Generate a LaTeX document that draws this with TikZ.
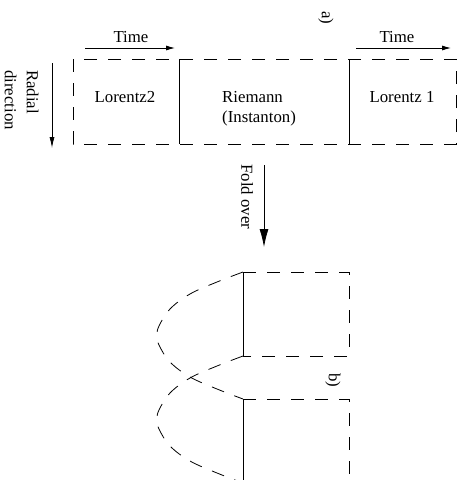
\documentclass[tikz,border=0pt]{standalone}
\usepackage{fontspec}
\setmainfont{Liberation Serif}
\usetikzlibrary{arrows.meta}
\begin{document}
\begin{tikzpicture}[x=1pt,y=-1pt,
  lbl/.style={font=\fontsize{16.8}{22}\selectfont, inner sep=0pt},
  dsh/.style={line width=0.8pt, dash pattern=on 13pt off 11pt},
  sld/.style={line width=0.8pt},
  arr/.style={line width=0.8pt,-{Latex[length=9pt,width=5pt]}},
  bigarr/.style={line width=0.8pt,-{Latex[length=18pt,width=9pt]}}]
\clip (0,0) rectangle (463,480);
% top panel a)
\coordinate (ta1) at (85,48); \coordinate (ta2) at (175,48);
\coordinate (tb1) at (356,48); \coordinate (tb2) at (451,48);
\coordinate (r1) at (52,63); \coordinate (r2) at (52,148);
\draw[arr] (ta1) -- (ta2);
\draw[arr] (tb1) -- (tb2);
\draw[arr,-{Latex[length=11pt,width=5pt]}] (r1) -- (r2);
\node[lbl,anchor=base] (time1) at (131,42.7) {Time};
\node[lbl,anchor=base] (time2) at (397,42.7) {Time};
\node[lbl,rotate=-90] (alab) at (326,18) {a)};
\node[lbl,rotate=-90,align=left] (radial) at (21.5,100) {Radial\\direction};
\draw[dsh] (73,59) rectangle (456,144);
\draw[sld] (179,59) -- (179,144);
\draw[sld] (349,59) -- (349,144);
\node[lbl,anchor=base] (lor2) at (125,102) {Lorentz2};
\node[lbl,anchor=base west] (riem) at (222,102) {Riemann};
\node[lbl,anchor=base west] (inst) at (222,122) {(Instanton)};
\node[lbl,anchor=base] (lor1) at (402,102) {Lorentz 1};
% fold over
\coordinate (f1) at (264,165); \coordinate (f2) at (264,247);
\draw[bigarr] (f1) -- (f2);
\node[lbl,rotate=-90] (fold) at (247,197) {Fold over};
% bottom panel b)
\coordinate (u1) at (243,272); \coordinate (u2) at (349,272);
\coordinate (u3) at (349,356); \coordinate (u4) at (243,356);
\coordinate (l1) at (243,399); \coordinate (l2) at (349,399);
\coordinate (l3) at (349,483); \coordinate (l4) at (243,483);
\draw[dsh] (u1) -- (u2) -- (u3) -- (u4);
\draw[sld] (u1) -- (u4);
\draw[dsh] (l1) -- (l2) -- (l3) -- (l4);
\draw[sld] (l1) -- (l4);
\draw[dsh] plot[smooth,tension=0.6] coordinates {(243,272) (217,282) (190,294) (170,309) (159,326) (157,335.5) (159,345) (170,362) (190,377) (217,389) (243,399)};
\draw[dsh] plot[smooth,tension=0.6] coordinates {(243,356) (217,366) (190,378) (170,393) (159,410) (157,419.5) (159,429) (170,446) (190,461) (217,473) (243,483)};
\node[lbl,rotate=-90] (blab) at (333,380) {b)};
\end{tikzpicture}
\end{document}
